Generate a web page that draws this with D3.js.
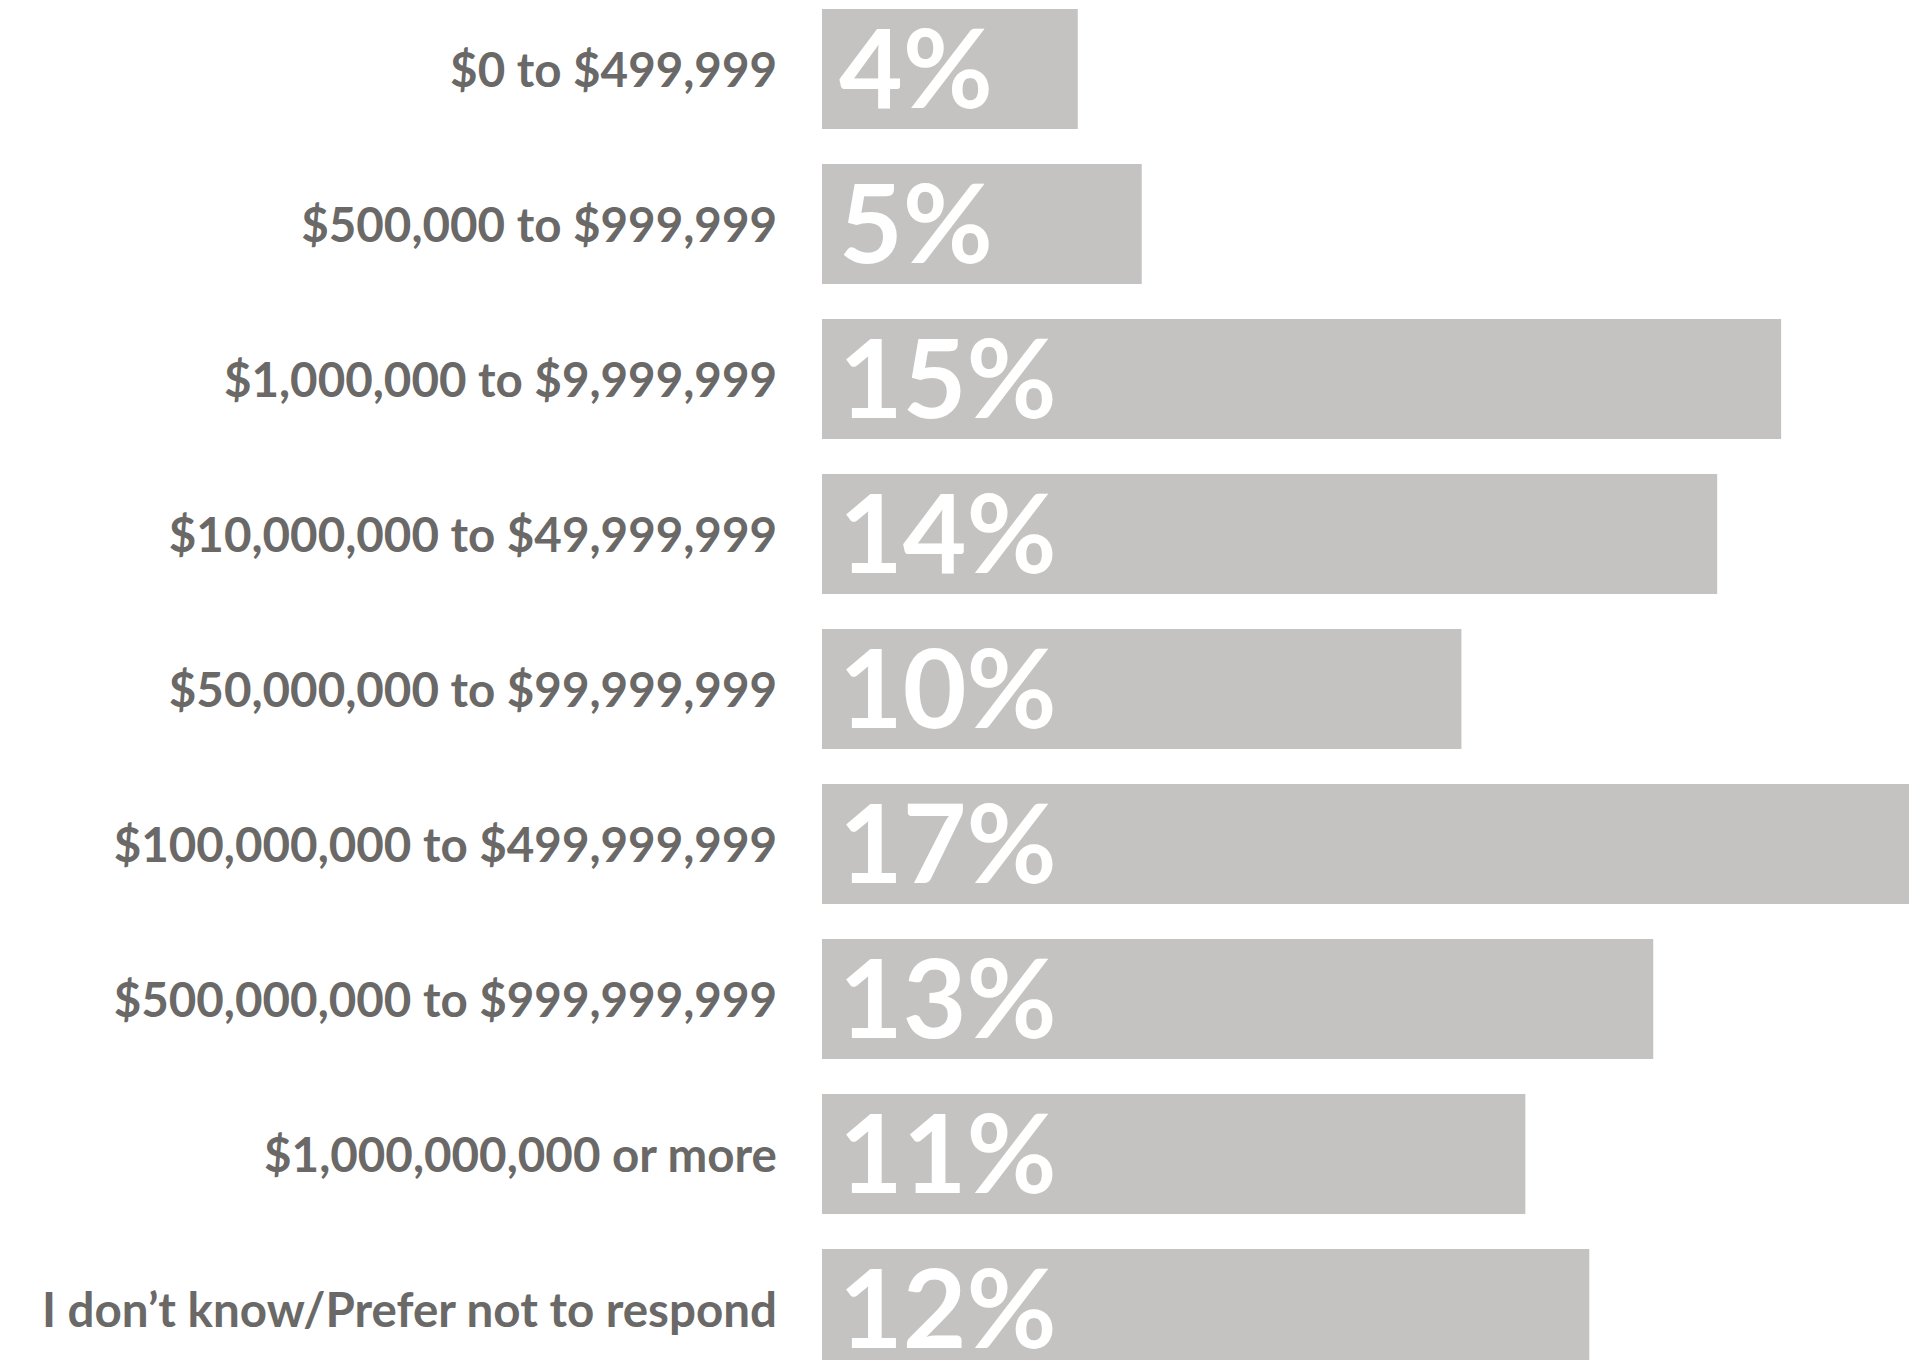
<!DOCTYPE html>
<html>
<head>
<meta charset="utf-8">
<script src="https://cdn.jsdelivr.net/npm/d3@7"></script>
<style>
  html, body { margin: 0; padding: 0; background: #fff; overflow: hidden; }
  svg { display: block; }
</style>
</head>
<body>
<div id="chart"></div>
<script>
(function () {
  const categories = [
    "$0 to $499,999",
    "$500,000 to $999,999",
    "$1,000,000 to $9,999,999",
    "$10,000,000 to $49,999,999",
    "$50,000,000 to $99,999,999",
    "$100,000,000 to $499,999,999",
    "$500,000,000 to $999,999,999",
    "$1,000,000,000 or more",
    "I don\u2019t know/Prefer not to respond"
  ];
  const values = [4, 5, 15, 14, 10, 17, 13, 11, 12];

  const width = 1911;
  const height = 1360;
  const barColour = "#c4c3c1";
  const labelColour = "#6a6967";

  const svg = d3
    .select("#chart")
    .append("svg")
    .attr("width", width)
    .attr("height", height);

  const x = d3.scaleLinear().domain([0, 17]).range([822, 1909]);

  // last bar runs off the bottom edge, as in the original
  const y = d3
    .scaleBand()
    .domain(categories)
    .range([9, 9 + 155 * 9 - 35])
    .paddingInner(35 / 155)
    .paddingOuter(0);

  // Bars
  svg
    .selectAll("rect.bar")
    .data(values)
    .enter()
    .append("rect")
    .attr("class", "bar")
    .attr("x", x(0))
    .attr("y", (d, i) => y(categories[i]))
    .attr("width", (d) => x(d) - x(0))
    .attr("height", y.bandwidth())
    .attr("fill", barColour);

  // Category labels
  svg
    .selectAll("text.cat")
    .data(categories)
    .enter()
    .append("text")
    .attr("class", "cat")
    .attr("x", 777)
    .attr("y", (d) => y(d) + y.bandwidth() / 2 + 18)
    .attr("text-anchor", "end")
    .attr("fill", labelColour)
    .style("font-family", "Lato, 'Open Sans', sans-serif")
    .style("font-weight", 700)
    .style("font-size", "47.5px")
    .text((d) => d);

  // Value labels inside bars
  svg
    .selectAll("text.val")
    .data(values)
    .enter()
    .append("text")
    .attr("class", "val")
    .attr("x", x(0) + 17)
    .attr("y", (d, i) => y(categories[i]) + y.bandwidth() / 2 + 39)
    .attr("fill", "#ffffff")
    .style("font-family", "Lato, 'Open Sans', sans-serif")
    .style("font-weight", 700)
    .style("font-size", "110px")
    .text((d) => `${d}%`);
})();
</script>
</body>
</html>
